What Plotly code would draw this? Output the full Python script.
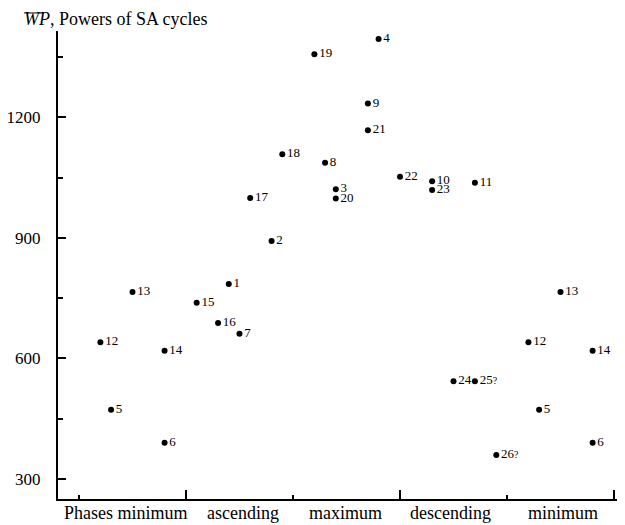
import plotly.graph_objects as go

# Cycle numbers (point labels)
cycle_labels = ["12", "5", "13", "14", "6",
                "15", "16", "1", "7", "17", "2", "18",
                "19", "8", "3", "20", "9", "21", "4",
                "22", "10", "23", "24", "11", "25<span style='font-size:10px'>?</span>",
                "26<span style='font-size:10px'>?</span>",
                "12", "5", "13", "14", "6"]
# Position along the phase axis (each phase = 1 unit)
phase_pos = [0.2, 0.3, 0.5, 0.8, 0.8,
             1.1, 1.3, 1.4, 1.5, 1.6, 1.8, 1.9,
             2.2, 2.3, 2.4, 2.4, 2.7, 2.7, 2.8,
             3.0, 3.3, 3.3, 3.5, 3.7, 3.7, 3.9,
             4.2, 4.3, 4.5, 4.8, 4.8]
# Mean power WP of the SA cycles
powers = [640, 472, 765, 619, 390,
          738, 688, 785, 661, 999, 892, 1108,
          1357, 1087, 1021, 998, 1234, 1168, 1395,
          1052, 1041, 1019, 543, 1037, 543, 359,
          640, 472, 765, 619, 390]

phase_labels = ["Phases minimum", "ascending", "maximum", "descending", "minimum"]
phase_label_pos = [0.44, 1.53, 2.49, 3.47, 4.52]

y_ticks = [300, 600, 900, 1200]
y_minor = [450, 750, 1050, 1350]

FONT = "Liberation Serif"

fig = go.Figure()
fig.add_trace(go.Scatter(
    x=phase_pos, y=powers, mode="markers+text", text=cycle_labels,
    textposition="middle right",
    marker=dict(size=6, color="black"),
    textfont=dict(family=FONT, size=13, color="black"),
    cliponaxis=False, hoverinfo="skip"))

fig.update_layout(
    width=617, height=517,
    margin=dict(l=50, r=2, t=23, b=26),
    plot_bgcolor="white", paper_bgcolor="white",
    showlegend=False,
    font=dict(family=FONT, color="black"),
    xaxis=dict(range=[-0.196, 5.084], showline=True, linecolor="black", linewidth=2,
               ticks="inside", tickvals=[1, 3, 5], ticklen=9, tickwidth=2, tickcolor="black",
               showticklabels=False, showgrid=False, zeroline=False, automargin=False,
               minor=dict(tickvals=[0, 2, 4], ticks="inside", ticklen=4, tickwidth=2,
                          tickcolor="black", showgrid=False)),
    yaxis=dict(range=[249.7, 1414.8], showline=True, linecolor="black", linewidth=2,
               ticks="inside", tickvals=y_ticks, ticklen=8, tickwidth=2, tickcolor="black",
               tickfont=dict(family=FONT, size=17, color="black"), ticklabelstandoff=12,
               showgrid=False, zeroline=False, automargin=False,
               minor=dict(tickvals=y_minor, ticks="inside", ticklen=5, tickwidth=2,
                          tickcolor="black", showgrid=False)),
)

for lab, pos in zip(phase_labels, phase_label_pos):
    fig.add_annotation(x=pos, y=-0.030, xref="x", yref="paper", text=lab, showarrow=False,
                       xanchor="center", yanchor="middle",
                       font=dict(family=FONT, size=18, color="black"))

fig.add_annotation(x=-0.0637, y=1.0256, xref="paper", yref="paper",
                   text="<i>WP</i>, Powers of SA cycles", showarrow=False,
                   xanchor="left", yanchor="middle",
                   font=dict(family=FONT, size=18, color="black"))
fig.add_shape(type="line", xref="paper", yref="paper",
              x0=-0.060, x1=-0.0248, y0=1.0385, y1=1.0385,
              line=dict(color="black", width=1))

fig.write_html("out.html")
